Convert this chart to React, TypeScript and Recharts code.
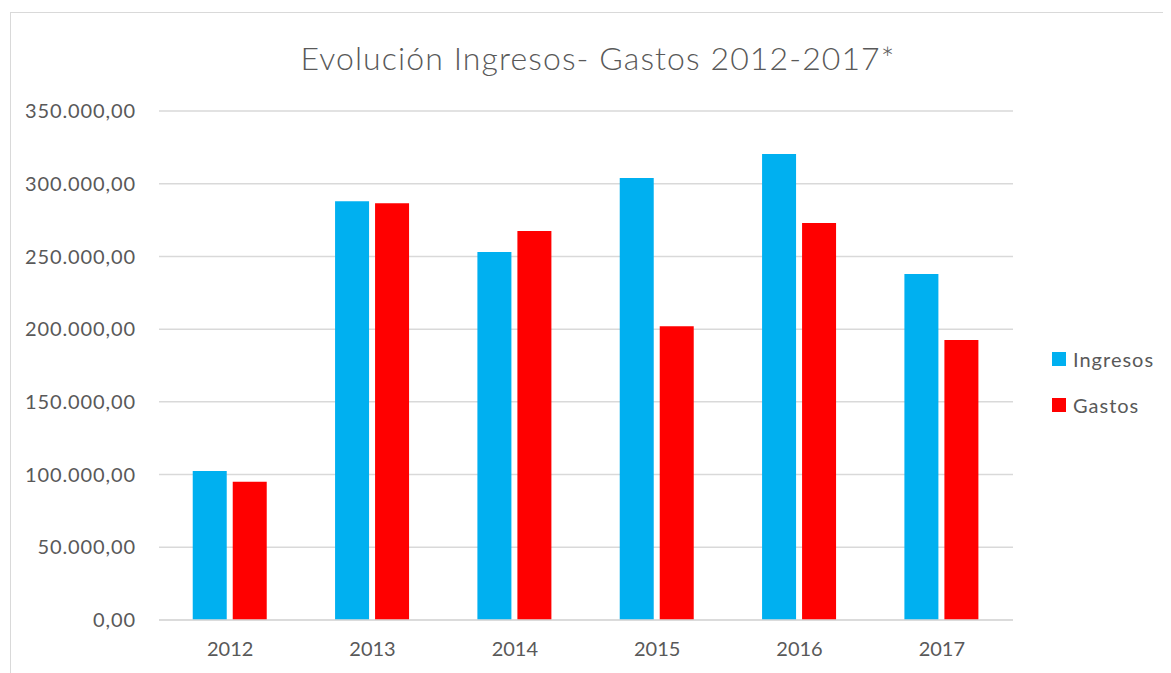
import { BarChart, Bar, XAxis, YAxis, CartesianGrid, Legend } from "recharts";

const YEARS = ["2012", "2013", "2014", "2015", "2016", "2017"];
const INGRESOS = [102500, 288000, 253000, 304000, 320500, 238000];
const GASTOS = [95000, 286500, 267500, 202000, 273000, 192500];
const Y_TICKS = [0, 50000, 100000, 150000, 200000, 250000, 300000, 350000];

const SERIES = [
  { key: "Ingresos", color: "#00B0F0" },
  { key: "Gastos", color: "#FF0000" },
];

const data = YEARS.map((year, i) => ({
  year,
  Ingresos: INGRESOS[i],
  Gastos: GASTOS[i],
}));

const FONT = "Lato, 'Open Sans', sans-serif";
const TEXT = "#595959";

// 350000 -> "350.000,00"
function fmtEs(v: number) {
  const s = Math.round(v).toString().replace(/\B(?=(\d{3})+(?!\d))/g, ".");
  return `${s},00`;
}

function LegendBox() {
  return (
    <div style={{ fontFamily: FONT, fontSize: 20, color: TEXT, letterSpacing: 1 }}>
      {SERIES.map((s) => (
        <div key={s.key} style={{ display: "flex", alignItems: "center", height: 24, marginBottom: 22 }}>
          <span style={{ width: 14, height: 14, background: s.color, marginRight: 7, display: "inline-block" }} />
          <span>{s.key}</span>
        </div>
      ))}
    </div>
  );
}

export default function App() {
  return (
    <div
      style={{
        position: "relative",
        width: 1171,
        height: 673,
        margin: "-8px 0 0 -8px",
        overflow: "hidden",
        background: "#fff",
      }}
    >
      <div
        style={{
          position: "absolute",
          left: 10,
          top: 12,
          width: 1220,
          height: 720,
          border: "1px solid #d9d9d9",
        }}
      />
      <div
        style={{
          position: "absolute",
          left: 0,
          width: 1196,
          top: 38,
          textAlign: "center",
          fontFamily: FONT,
          fontSize: 32,
          fontWeight: 300,
          letterSpacing: 1.1,
          color: TEXT,
        }}
      >
        Evolución Ingresos- Gastos 2012-2017*
      </div>
      <div style={{ position: "absolute", left: 0, top: 0 }}>
        <BarChart
          width={1171}
          height={673}
          data={data}
          margin={{ top: 111, right: 158, bottom: 0, left: 9 }}
          barCategoryGap="23.7%"
          barGap={6}
        >
          <CartesianGrid vertical={false} stroke="#d9d9d9" strokeWidth={1.5} />
          <XAxis
            dataKey="year"
            height={53}
            tickSize={0}
            tickMargin={22}
            axisLine={{ stroke: "#d9d9d9", strokeWidth: 1.5 }}
            tick={{ fill: TEXT, fontSize: 20, fontFamily: FONT }}
          />
          <YAxis
            width={150}
            domain={[0, 350000]}
            ticks={Y_TICKS}
            tickFormatter={fmtEs}
            axisLine={false}
            tickLine={false}
            tickSize={0}
            tickMargin={23}
            tick={{ fill: TEXT, fontSize: 20, fontFamily: FONT, letterSpacing: 0.9 }}
          />
          <Legend
            layout="vertical"
            align="center"
            verticalAlign="middle"
            content={() => <LegendBox />}
            wrapperStyle={{ left: 1052, top: 347, width: "auto" }}
          />
          {SERIES.map((s) => (
            <Bar key={s.key} dataKey={s.key} fill={s.color} isAnimationActive={false} />
          ))}
        </BarChart>
      </div>
    </div>
  );
}
